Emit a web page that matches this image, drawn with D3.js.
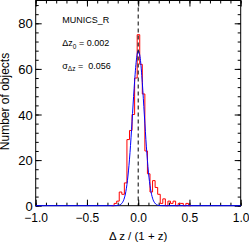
<!DOCTYPE html>
<html><head><meta charset="utf-8">
<script src="https://cdn.jsdelivr.net/npm/d3@7"></script>
<style>
html,body{margin:0;padding:0;background:#fff;}
svg{display:block;font-family:"Liberation Sans",Arial,Helvetica,sans-serif;}
</style></head>
<body>
<svg id="c" width="249" height="245"></svg>
<script>
// ---- data ----
const binLeft = [-0.26,-0.235,-0.21,-0.185,-0.16,-0.135,-0.11,-0.085,-0.06,-0.035,-0.01,0.015,0.04,0.065,0.09,0.115,0.14,0.165,0.19,0.215,0.24,0.265,0.29,0.315,0.34,0.365,0.39,0.415,0.44,0.465,0.49];
const binWidth = 0.025;
const counts  = [0,1,2,6,5,10,29,33,40,56,75,62,49,24,14,6,11,8,5,1,3,0,2,1,2,0,1,1,0,1,0];
const fitX = [-1.0,-0.3,-0.24,-0.22,-0.20,-0.18,-0.16,-0.14,-0.12,-0.10,-0.08,-0.06,-0.04,-0.02,0.00,0.02,0.04,0.06,0.08,0.10,0.12,0.14,0.16,0.18,0.20,0.22,0.24,0.3,1.0];
const fitY = [0,0,0.01,0.03,0.10,0.35,1.0,2.7,6.3,13.0,23.3,36.8,51.3,62.9,68.0,64.6,54.0,39.8,25.8,14.7,7.4,3.3,1.3,0.44,0.13,0.04,0.01,0,0];
const xMajor = [-1.0,-0.5,0.0,0.5,1.0];
const xMinor = [-1.0,-0.9,-0.8,-0.7,-0.6,-0.5,-0.4,-0.3,-0.2,-0.1,0.0,0.1,0.2,0.3,0.4,0.5,0.6,0.7,0.8,0.9,1.0];
const yMajor = [0,20,40,60,80];
const yMinor = [0,4,8,12,16,20,24,28,32,36,40,44,48,52,56,60,64,68,72,76,80,84,88];
const xLabel = "Δ z / (1 + z)";
const yLabel = "Number of objects";
const sampleName = "MUNICS_R";
const offsetVal = "0.002";
const sigmaVal = "0.056";

// ---- layout ----
const L = 35.7, R = 240.7, T = 0.5, B = 205.7;
const svg = d3.select("#c");
const x = d3.scaleLinear().domain([-1,1]).range([L,R]);
const y = d3.scaleLinear().domain([0,90]).range([B,T]);

// frame
svg.append("rect").attr("x",L).attr("y",T).attr("width",R-L).attr("height",B-T)
  .attr("fill","none").attr("stroke","#000").attr("stroke-width",1);

function ax(gen, tx, ty, vals, size, labels){
  const g = svg.append("g").attr("transform",`translate(${tx},${ty})`)
    .call(gen.tickValues(vals).tickSize(size).tickSizeOuter(0)
      .tickFormat(labels ? labels : ""));
  g.select(".domain").remove();
  g.selectAll(".tick line").attr("stroke","#000").attr("stroke-width",1);
  return g;
}
// bottom
ax(d3.axisBottom(x),0,B,xMinor,-3);
const gb = ax(d3.axisBottom(x),0,B,xMajor,-6,d3.format(".1f"));
gb.selectAll("text").attr("y",16.8).attr("dy",0).attr("font-size","12px")
  .attr("fill","#000").attr("font-family","Liberation Sans, Arial, sans-serif");
// top
ax(d3.axisTop(x),0,T,xMinor,-3);
ax(d3.axisTop(x),0,T,xMajor,-6);
// left
ax(d3.axisLeft(y),L,0,yMinor,-3);
const gl = ax(d3.axisLeft(y),L,0,yMajor,-6,d3.format("d"));
gl.selectAll("text").attr("x",-3).attr("dy","0.36em").attr("font-size","13px")
  .attr("fill","#000").attr("font-family","Liberation Sans, Arial, sans-serif");
// right
ax(d3.axisRight(y),R,0,yMinor,-3);
ax(d3.axisRight(y),R,0,yMajor,-6);

// histogram (step)
const pts = [[binLeft[0],0]];
binLeft.forEach((b,i)=>pts.push([b,counts[i]]));
pts.push([binLeft[binLeft.length-1]+binWidth,0]);
svg.append("path").datum(pts)
  .attr("d", d3.line().x(d=>x(d[0])).y(d=>y(d[1])).curve(d3.curveStepAfter))
  .attr("fill","none").attr("stroke","#ff0000").attr("stroke-width",1);

// fit curve
svg.append("path").datum(fitX.map((v,i)=>[v,fitY[i]]))
  .attr("d", d3.line().x(d=>x(d[0])).y(d=>y(d[1])).curve(d3.curveMonotoneX))
  .attr("fill","none").attr("stroke","#0000ff").attr("stroke-width",1);

// dashed zero line
svg.append("line").attr("x1",x(0)).attr("x2",x(0)).attr("y1",y(90)).attr("y2",y(0))
  .attr("stroke","#000").attr("stroke-width",1).attr("stroke-dasharray","4,3");

// annotations
const fs = 9;
svg.append("text").attr("x",62.3).attr("y",23.3).attr("font-size",fs+"px").text(sampleName);
const t1 = svg.append("text").attr("x",62.3).attr("y",46.3).attr("font-size",fs+"px").attr("xml:space","preserve");
t1.append("tspan").text("Δz");
t1.append("tspan").attr("font-size","6.5px").attr("dy",2.5).text("0");
t1.append("tspan").attr("dy",-2.5).text(" = "+offsetVal);
const t2 = svg.append("text").attr("x",62.3).attr("y",68.5).attr("font-size",fs+"px").attr("xml:space","preserve");
t2.append("tspan").text("σ");
t2.append("tspan").attr("font-size","6.5px").attr("dy",2.5).text("Δz");
t2.append("tspan").attr("dy",-2.5).text(" =  "+sigmaVal);

// axis titles
svg.append("text").attr("x",(L+R)/2).attr("y",240).attr("text-anchor","middle")
  .attr("font-size","11.5px").text(xLabel);
svg.append("text").attr("transform","translate(9.4,101.5) rotate(-90)")
  .attr("text-anchor","middle").attr("font-size","12px").text(yLabel);
</script>
</body></html>
